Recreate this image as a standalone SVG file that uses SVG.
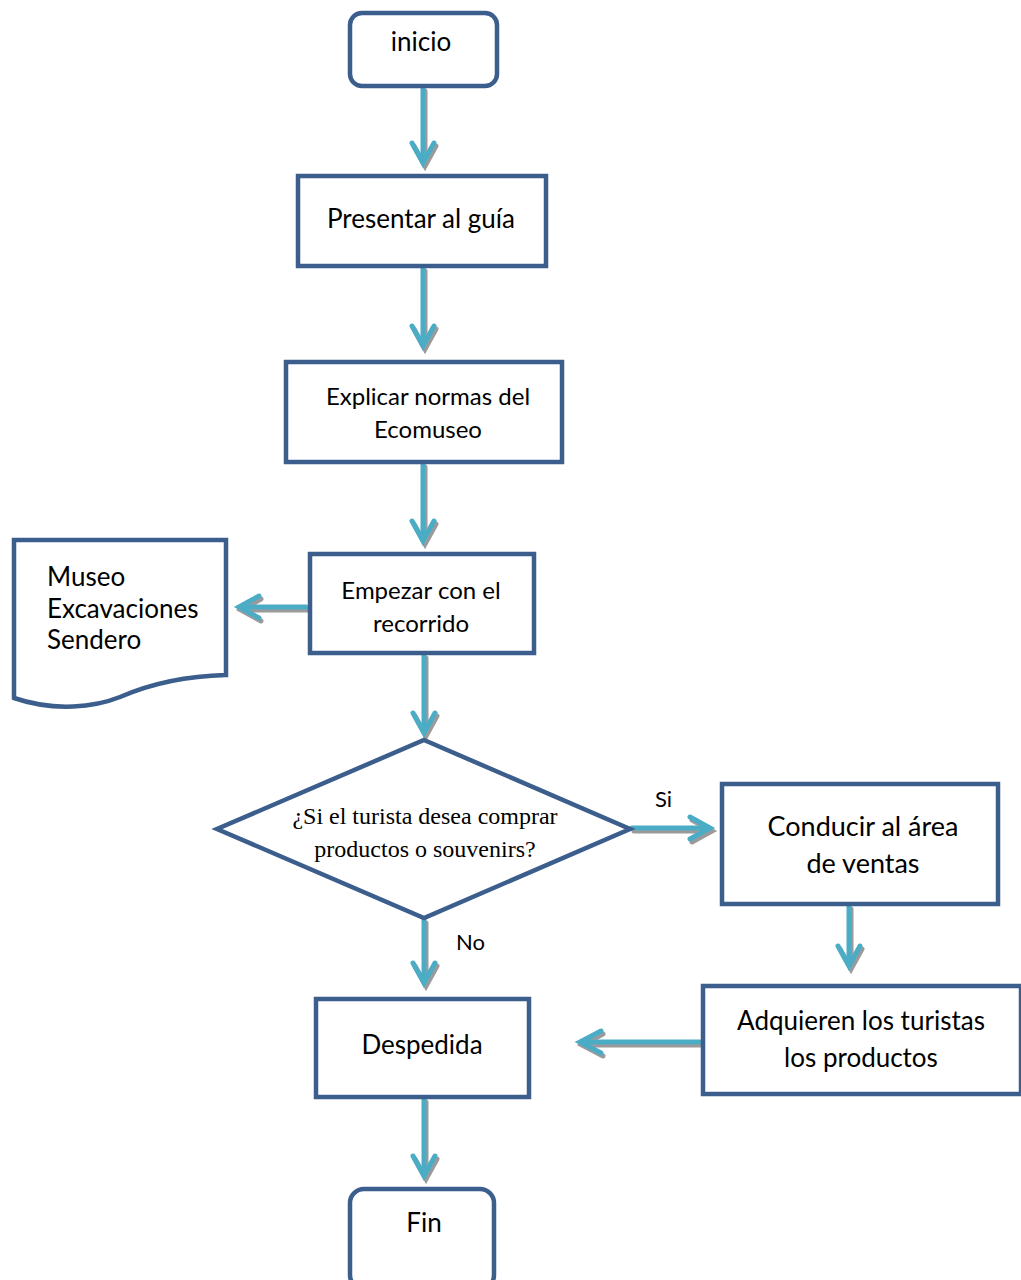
<svg xmlns="http://www.w3.org/2000/svg" width="1021" height="1280" viewBox="0 0 1021 1280">
<style>
.box{fill:#fff;stroke:#3B5E8C;stroke-width:4.5}
.t{font-family:Lato,"Noto Sans",sans-serif;font-size:26px;fill:#000;text-anchor:middle}
.t2{font-family:Lato,"Noto Sans",sans-serif;font-size:24px;fill:#000;text-anchor:middle}
.tl{font-family:Lato,"Noto Sans",sans-serif;font-size:26px;fill:#000;text-anchor:middle}
.ts{font-family:"Liberation Serif",serif;font-size:24px;fill:#000;text-anchor:middle}
.lab{font-family:Lato,"Noto Sans",sans-serif;font-size:22px;fill:#000}
.c{fill:none;stroke:#4BACC6;stroke-width:5;stroke-linecap:round;stroke-linejoin:miter;filter:url(#sh)}
</style>
<defs>
<filter id="sh" x="-50%" y="-50%" width="200%" height="200%">
<feFlood flood-color="#9a9a9a" result="f"/>
<feComposite in="f" in2="SourceAlpha" operator="in" result="s"/>
<feOffset in="s" dx="2" dy="3" result="o"/>
<feMerge><feMergeNode in="o"/><feMergeNode in="SourceGraphic"/></feMerge>
</filter>
</defs>
<rect width="1021" height="1280" fill="#fff"/>
<g id="connectors">
<path class="c" d="M423,88 V163 M412,143 L423,163 L434,143"/>
<path class="c" d="M423,268 V346 M412,326 L423,346 L434,326"/>
<path class="c" d="M423,464 V541 M412,521 L423,541 L434,521"/>
<path class="c" d="M306,607 H239 M259,596 L239,607 L259,618"/>
<path class="c" d="M424,655 V733 M413,713 L424,733 L435,713"/>
<path class="c" d="M632,828 H710 M690,817 L710,828 L690,839"/>
<path class="c" d="M849,906 V966 M838,946 L849,966 L860,946"/>
<path class="c" d="M700,1042 H580 M601,1031 L580,1042 L601,1053"/>
<path class="c" d="M424,920 V983 M413,963 L424,983 L435,963"/>
<path class="c" d="M424,1099 V1176 M413,1156 L424,1176 L435,1156"/>
</g>
<g id="inicio">
<rect class="box" x="350" y="13" width="147" height="73" rx="12"/>
<text class="t" x="421" y="51">inicio</text>
</g>
<g id="presentar">
<rect class="box" x="298" y="176" width="248" height="90"/>
<text class="t" x="421" y="228">Presentar al guía</text>
</g>
<g id="explicar">
<rect class="box" x="286" y="362" width="276" height="100"/>
<text class="t2" x="428" y="405">Explicar normas del</text>
<text class="t2" x="428" y="438">Ecomuseo</text>
</g>
<g id="empezar">
<rect class="box" x="310" y="554" width="224" height="99"/>
<text class="t2" x="421" y="599">Empezar con el</text>
<text class="t2" x="421" y="632">recorrido</text>
</g>
<g id="documento">
<path class="box" d="M14,540 H226 V675 C185,676 150,684 120,697 C95,707 55,712 14,698 Z"/>
<text class="tl" x="47" y="586" style="text-anchor:start">Museo</text>
<text class="tl" x="47" y="618" style="text-anchor:start">Excavaciones</text>
<text class="tl" x="47" y="649" style="text-anchor:start">Sendero</text>
</g>
<g id="decision">
<polygon class="box" points="424,740 630,829 424,918 217,829"/>
<text class="ts" x="425" y="824">¿Si el turista desea comprar</text>
<text class="ts" x="425" y="857">productos o souvenirs?</text>
</g>
<g id="conducir">
<rect class="box" x="722" y="784" width="276" height="120"/>
<text class="tl" x="863" y="836" style="font-size:27px">Conducir al área</text>
<text class="tl" x="863" y="873" style="font-size:27px">de ventas</text>
</g>
<g id="adquieren">
<rect class="box" x="703" y="986" width="318" height="108"/>
<text class="tl" x="861" y="1030">Adquieren los turistas</text>
<text class="tl" x="861" y="1067">los productos</text>
</g>
<g id="despedida">
<rect class="box" x="316" y="999" width="213" height="98"/>
<text class="t" x="422" y="1054">Despedida</text>
</g>
<g id="fin">
<rect class="box" x="350" y="1189" width="144" height="100" rx="14"/>
<text class="t" x="424" y="1232">Fin</text>
</g>
<g id="labels">
<text class="lab" x="655" y="807">Si</text>
<text class="lab" x="456" y="950">No</text>
</g>
</svg>
